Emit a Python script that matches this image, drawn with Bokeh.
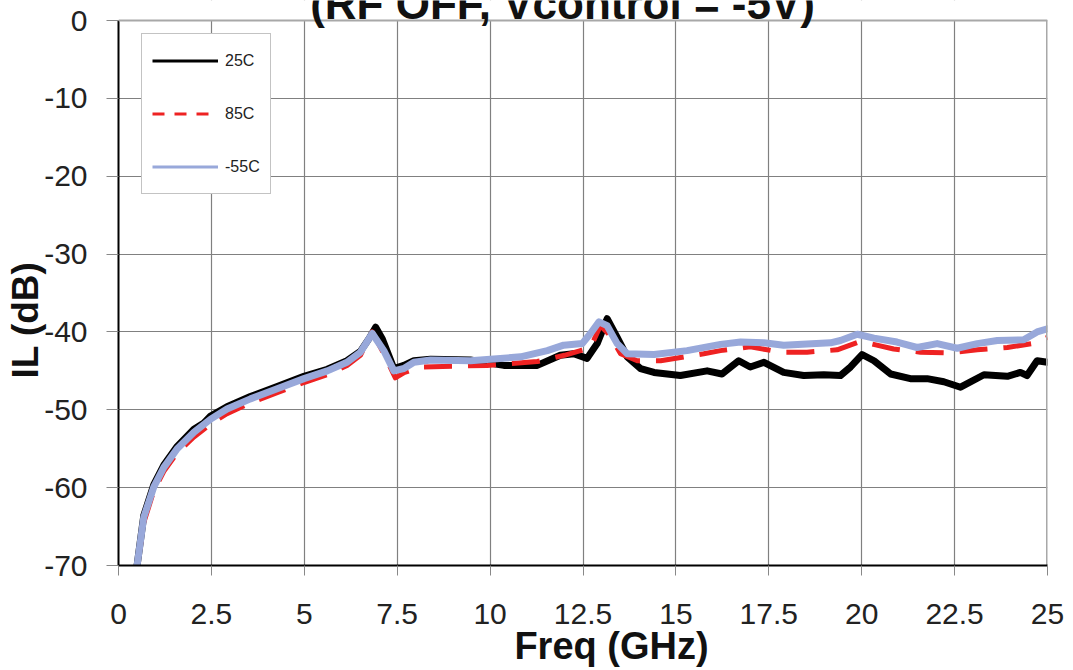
from bokeh.plotting import figure
from bokeh.models import (Legend, LegendItem, Label, FixedTicker, Range1d,
                          BoxAnnotation, Span)
from bokeh.embed import file_html
from bokeh.resources import INLINE

# ---------------- data ----------------
title_text = "(RF OFF, Vcontrol = -5V)"
x_label = "Freq (GHz)"
y_label = "IL (dB)"
series_names = ["25C", "85C", "-55C"]

x_ticks = [0, 2.5, 5, 7.5, 10, 12.5, 15, 17.5, 20, 22.5, 25]
x_tick_labels = ["0", "2.5", "5", "7.5", "10", "12.5", "15", "17.5", "20", "22.5", "25"]
y_ticks = [0, -10, -20, -30, -40, -50, -60, -70]
y_tick_labels = ["0", "-10", "-20", "-30", "-40", "-50", "-60", "-70"]

freq_25c = [0.5, 0.68, 0.95, 1.22, 1.58, 2.03, 2.3, 2.48, 2.92, 3.55, 4.27, 4.99,
            5.62, 6.15, 6.51, 6.75, 6.92, 7.1, 7.41, 7.68, 7.95, 8.40, 9.47, 10.37,
            11.27, 11.89, 12.25, 12.61, 12.88, 13.15, 13.42, 13.69, 14.05, 14.41,
            15.12, 15.84, 16.24, 16.45, 16.69, 17.0, 17.37, 17.90, 18.44, 18.98,
            19.43, 19.70, 20.01, 20.33, 20.78, 21.31, 21.76, 22.21, 22.66, 23.29,
            23.92, 24.27, 24.45, 24.72, 25.0]
il_25c = [-70, -63.6, -59.6, -57.1, -54.7, -52.5, -51.7, -50.8, -49.6, -48.3, -47.0, -45.7,
          -44.8, -43.7, -42.5, -40.8, -39.4, -40.9, -44.7, -44.3, -43.7, -43.5, -43.6, -44.3,
          -44.3, -43.0, -42.8, -43.4, -41.5, -38.3, -40.7, -43.2, -44.7, -45.2,
          -45.6, -45.0, -45.4, -44.6, -43.7, -44.5, -43.9, -45.2, -45.6, -45.5,
          -45.6, -44.5, -42.9, -43.7, -45.4, -46.0, -46.0, -46.4, -47.1, -45.5,
          -45.7, -45.2, -45.6, -43.7, -43.9]

freq_85c = [0.5, 0.7, 0.95, 1.22, 1.58, 2.03, 2.48, 2.92, 3.55, 4.27, 4.99, 5.62,
            6.15, 6.51, 6.83, 7.14, 7.45, 7.7, 8.13, 9.92, 11.27, 12.0, 12.43, 12.70,
            12.97, 13.2, 13.51, 13.96, 14.59, 15.75, 16.2, 17.0, 17.81, 18.53, 19.34,
            19.97, 20.86, 21.58, 22.39, 23.11, 23.92, 24.59, 25.0]
il_85c = [-70, -64.2, -60.4, -57.9, -55.5, -53.5, -51.8, -50.5, -49.1, -47.8, -46.5, -45.5,
          -44.3, -43.0, -40.0, -42.8, -45.9, -45.2, -44.5, -44.3, -43.8, -43.0, -42.4, -42.0,
          -39.2, -40.3, -42.8, -43.7, -43.7, -42.8, -42.4, -41.9, -42.6, -42.6, -42.3,
          -41.2, -42.2, -42.6, -42.7, -42.3, -42.0, -41.5, -40.7]

freq_m55c = [0.5, 0.68, 0.95, 1.22, 1.58, 2.03, 2.48, 2.92, 3.55, 4.27, 4.99, 5.62,
             6.15, 6.51, 6.83, 7.14, 7.41, 7.68, 7.95, 8.40, 9.47, 10.82, 11.54, 11.98,
             12.48, 12.70, 12.93, 13.15, 13.42, 13.69, 14.41, 15.30, 16.2, 16.74, 17.37,
             17.90, 19.16, 19.43, 19.88, 20.33, 20.95, 21.49, 22.03, 22.57, 23.11, 23.65,
             24.36, 24.72, 25.0]
il_m55c = [-70, -63.8, -59.9, -57.4, -55.0, -52.9, -51.2, -49.9, -48.6, -47.3, -46.0, -45.0,
           -43.9, -42.6, -40.2, -42.4, -45.0, -44.7, -43.9, -43.6, -43.7, -43.2, -42.4, -41.7,
           -41.5, -40.2, -38.7, -39.2, -41.5, -42.8, -42.9, -42.4, -41.6, -41.3, -41.4,
           -41.7, -41.4, -41.1, -40.3, -40.8, -41.3, -42.0, -41.5, -42.1, -41.5, -41.1,
           -41.0, -40.0, -39.6]

# ---------------- figure ----------------
FONT = "Liberation Sans"
BLUE = "#98a8da"
X0, X1 = x_ticks[0], x_ticks[-1]
Y0, Y1 = y_ticks[-1], y_ticks[0]
PX_PER_DB = 545 / (Y1 - Y0)          # plot area is 545 px tall
Y_TOP = Y1 + 20 / PX_PER_DB          # 20 px of headroom inside the frame for the clipped title

p = figure(frame_width=929, frame_height=565,
           min_border_left=118, min_border_right=26, min_border_top=0, min_border_bottom=105,
           x_range=Range1d(X0, X1), y_range=Range1d(Y0, Y_TOP),
           output_backend="svg", toolbar_location=None,
           background_fill_color="white", border_fill_color="white")
p.outline_line_color = None

for ax, ticks, labels in ((p.xaxis[0], x_ticks, x_tick_labels), (p.yaxis[0], y_ticks, y_tick_labels)):
    ax.ticker = FixedTicker(ticks=ticks)
    ax.major_label_overrides = {t: l for t, l in zip(ticks, labels)}
    ax.axis_line_color = "black"
    ax.axis_line_width = 2
    ax.major_tick_line_color = "#888888"
    ax.major_tick_line_width = 1
    ax.major_tick_in = 0
    ax.minor_tick_line_color = None
    ax.major_label_text_font = FONT
    ax.major_label_text_font_size = "30px"
    ax.major_label_text_color = "#222222"
    ax.axis_label_text_font = FONT
    ax.axis_label_text_font_style = "bold"
    ax.axis_label_text_color = "#111111"

p.yaxis[0].bounds = (Y0, Y1)
p.xaxis.major_tick_out = 10
p.xaxis.major_label_standoff = 28
p.yaxis.major_tick_out = 12
p.yaxis.major_label_standoff = 19

# axis titles (the em/en spaces only shift the centred title along its axis,
# as in the original where they sit off-centre)
p.xaxis.axis_label = "\u2003\u2002" + x_label
p.xaxis.axis_label_text_font_size = "38px"
p.xaxis.axis_label_standoff = -2
p.yaxis.axis_label = y_label + "\u2003\u2003"
p.yaxis.axis_label_text_font_size = "37px"
p.yaxis.axis_label_standoff = -5

p.xgrid.ticker = FixedTicker(ticks=x_ticks)
p.ygrid.ticker = FixedTicker(ticks=y_ticks)
p.grid.grid_line_color = "#808080"
p.grid.grid_line_width = 1.2

# curves
p.line(freq_25c, il_25c, line_color="black", line_width=7, line_join="round", line_cap="round")
p.line(freq_85c, il_85c, line_color="#ee2222", line_width=5, line_dash="28 16", line_join="round")
p.line(freq_m55c, il_m55c, line_color=BLUE, line_width=7, line_join="round", line_cap="round")

# plot-area border: white cover above 0 dB, grey top and right edges
p.add_layout(BoxAnnotation(bottom=Y1, fill_color="white", fill_alpha=1, line_color=None))
p.add_layout(Span(location=Y1, dimension="width", line_color="#a8a8a8", line_width=2))
p.segment(x0=[X1], y0=[Y0], x1=[X1], y1=[Y1], line_color="#a8a8a8", line_width=3)

# legend (thin sample lines, drawn off-range so only the legend shows them)
off_x = [-10, -9]
off_y = [-100, -100]
l1 = p.line(off_x, off_y, line_color="black", line_width=3)
l2 = p.line(off_x, off_y, line_color="#ee2222", line_width=3, line_dash="12 10")
l3 = p.line(off_x, off_y, line_color=BLUE, line_width=3)
legend = Legend(items=[LegendItem(label=series_names[0], renderers=[l1]),
                       LegendItem(label=series_names[1], renderers=[l2]),
                       LegendItem(label=series_names[2], renderers=[l3])],
                location=(23, 371), orientation="vertical",
                glyph_width=66, glyph_height=33, label_standoff=7, spacing=20,
                padding=10, margin=0,
                label_text_font=FONT, label_text_font_size="16px", label_text_color="#222222",
                border_line_color="#888888", border_line_width=1,
                background_fill_color="white", background_fill_alpha=1)
p.add_layout(legend)

# chart title (its top runs off the page, as in the original)
p.add_layout(Label(x=11.95, y=2.18, text=title_text, text_align="center", text_baseline="middle",
                   text_font=FONT, text_font_style="bold", text_font_size="44px",
                   text_color="#111111"))

open("out.html", "w").write(file_html(p, INLINE))
